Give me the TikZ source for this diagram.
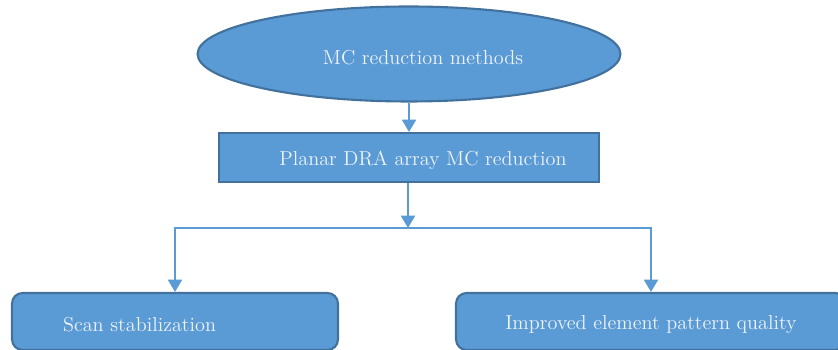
\documentclass[tikz,border=0pt]{standalone}
\usepackage{xcolor}
\usepackage{tikz}
\usetikzlibrary{positioning,arrows.meta,shapes.geometric,calc}

\definecolor{boxfill}{HTML}{5B9BD5}
\definecolor{boxline}{HTML}{41719C}
\definecolor{boxtext}{HTML}{EEF3FA}

\newcommand{\lowtext}[1]{\raisebox{-1.8pt}[\height][\depth]{#1}}

\begin{document}
\begin{tikzpicture}[
    x=0.02cm, y=-0.02cm,
    oval/.style={ellipse, draw=boxline, fill=boxfill, line width=1.2pt, minimum width=8.46cm, minimum height=1.9cm, text=boxtext, font=\fontsize{11.5}{13}\selectfont},
    plain/.style={rectangle, draw=boxline, fill=boxfill, line width=1.2pt, minimum width=7.6cm, minimum height=0.98cm, text=boxtext, font=\fontsize{11.5}{13}\selectfont},
    leaf/.style={rectangle, draw=boxline, fill=boxfill, line width=1.2pt, minimum height=1.14cm, rounded corners=6pt, text=boxtext, font=\fontsize{11.5}{13}\selectfont},
    arrow/.style={-{Triangle[width=8pt,length=7pt]}, line width=1.1pt, color=boxfill}
]
\useasboundingbox (0,0) rectangle (838,350);

\node[oval] (methods) at (409,54) {\hspace*{0.56cm}\lowtext{MC reduction methods}};
\node[plain] (planar) at (409,157.5) {\hspace*{0.56cm}\lowtext{Planar DRA array MC reduction}};

\node[leaf, minimum width=6.52cm, text width=4.48cm, inner xsep=1.02cm, align=left] (scan) at (175,321.5) {\lowtext{Scan stabilization}};
\node[leaf, minimum width=7.8cm] (quality) at (651,321.5) {\lowtext{Improved element pattern quality}};

\coordinate (split) at (408,228);

\draw[arrow] (methods) -- (planar);
\draw[arrow] (planar.south -| split) -- (split);
\draw[arrow] (split) -| (scan.north);
\draw[arrow] (split) -| (quality.north);

\end{tikzpicture}
\end{document}
